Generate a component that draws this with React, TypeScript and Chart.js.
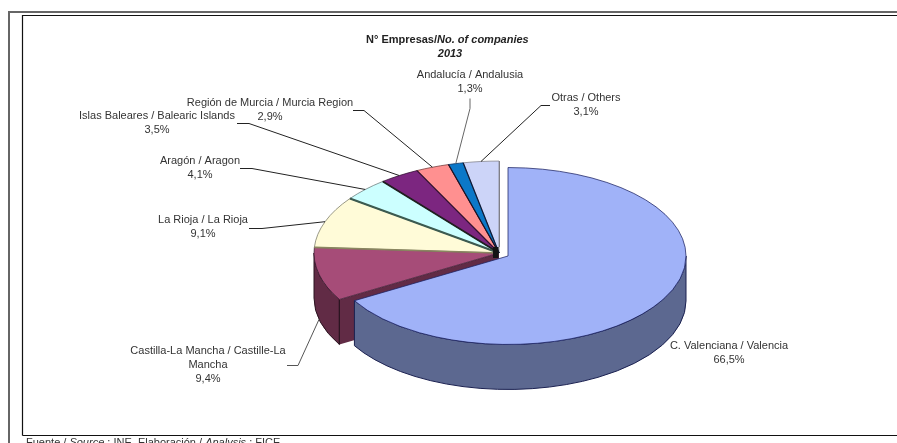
import { useEffect, useRef } from "react";
import { Chart, registerables } from "chart.js";

Chart.register(...registerables);

const regions = [
  ["C. Valenciana / Valencia"],
  ["Castilla-La Mancha / Castille-La", "Mancha"],
  ["La Rioja / La Rioja"],
  ["Aragón / Aragon"],
  ["Islas Baleares / Balearic Islands"],
  ["Región de Murcia / Murcia Region"],
  ["Andalucía / Andalusia"],
  ["Otras / Others"],
];
const shares = [66.5, 9.4, 9.1, 4.1, 3.5, 2.9, 1.3, 3.1];
const topColors = ["#A0B2F8", "#A64C78", "#FFFBD8", "#CCFFFF", "#7C2680", "#FF9090", "#0B78C8", "#CCD4F8"];
const edgeColors = ["#1A2060", "#3A1A30", "#777766", "#667777", "#301030", "#703838", "#083060", "#808088"];

// Shaded faces of the extruded pie.
const VALENCIA_SIDE = "#5C6890";
const CASTILLA_SIDE = "#612B45";

// Pie projection.
const CENTER_X = 499;
const CENTER_Y = 253;
const RADIUS = 185;
const SQUASH = 0.497;
const DEPTH = 45;
const EXPLODED_RADIUS = 178;
const EXPLODE_X = 9;
const EXPLODE_Y = 3;

// Where each label sits: text centre, first line centre, and the leader's elbow.
type LabelSpot = { cx: number; y: number; elbow?: [number, number][]; onSide?: boolean; stroke?: string };
const labelSpots: LabelSpot[] = [
  { cx: 729, y: 346 },
  { cx: 208, y: 351, elbow: [[287, 365], [298, 365]], onSide: true, stroke: "#555" },
  { cx: 203, y: 220, elbow: [[249, 228], [262, 228]] },
  { cx: 200, y: 161, elbow: [[240, 168], [252, 168]] },
  { cx: 157, y: 116, elbow: [[237, 123], [249, 123]] },
  { cx: 270, y: 103, elbow: [[353, 110], [364, 110]] },
  { cx: 470, y: 75, elbow: [[470, 98], [470, 108]], stroke: "#666" },
  { cx: 586, y: 98, elbow: [[550, 105], [541, 105]] },
];
const LINE_HEIGHT = 14;

// Dark seams between neighbouring slices, following each slice's end edge.
const seams = [
  { index: 1, color: "#8A8660", width: 1.6 },
  { index: 2, color: "#3C5A50", width: 2 },
  { index: 3, color: "#202020", width: 1.8 },
  { index: 4, color: "#301030", width: 1.2 },
  { index: 5, color: "#201020", width: 1.2 },
  { index: 6, color: "#081838", width: 1.2 },
];

const FONT = '"Liberation Sans", Arial, sans-serif';
const TEXT_COLOR = "#333333";

const rimPath = (ctx: CanvasRenderingContext2D, x: number, y: number, r: number, from: number, to: number) => {
  // Draws inside the squashed space, so the drop is scaled back up.
  const drop = DEPTH / SQUASH;
  ctx.beginPath();
  ctx.arc(x, y, r, from, to);
  ctx.arc(x, y + drop, r, to, from, true);
  ctx.closePath();
};

const squash = (ctx: CanvasRenderingContext2D) => {
  ctx.translate(0, CENTER_Y);
  ctx.scale(1, SQUASH);
  ctx.translate(0, -CENTER_Y);
};

// Strokes the current path with an undistorted pen.
const strokeFlat = (ctx: CanvasRenderingContext2D, color: string) => {
  ctx.save();
  ctx.setTransform(1, 0, 0, 1, 0, 0);
  ctx.strokeStyle = color;
  ctx.lineWidth = 1;
  ctx.stroke();
  ctx.restore();
};

const pie3d = {
  id: "pie3d",
  afterDatasetsUpdate(chart: any) {
    const first = chart.getDatasetMeta(0).data[0];
    first.x += EXPLODE_X;
    first.y += EXPLODE_Y / SQUASH;
    first.outerRadius = EXPLODED_RADIUS;
  },
  beforeDatasetsDraw(chart: any) {
    const { ctx } = chart;
    const arcs = chart.getDatasetMeta(0).data;
    const [valencia, castilla] = arcs;
    const drop = DEPTH / SQUASH;
    ctx.save();
    squash(ctx);

    // Castilla-La Mancha: cut face towards the detached slice, then its rim.
    const endX = castilla.x + Math.cos(castilla.startAngle) * castilla.outerRadius;
    const endY = castilla.y + Math.sin(castilla.startAngle) * castilla.outerRadius;
    ctx.beginPath();
    ctx.moveTo(castilla.x, castilla.y);
    ctx.lineTo(endX, endY);
    ctx.lineTo(endX, endY + drop);
    ctx.lineTo(castilla.x, castilla.y + drop);
    ctx.closePath();
    ctx.fillStyle = CASTILLA_SIDE;
    ctx.fill();
    rimPath(ctx, castilla.x, castilla.y, castilla.outerRadius, castilla.startAngle, Math.PI);
    ctx.fill();
    strokeFlat(ctx, "#2A1420");
    ctx.beginPath();
    ctx.moveTo(endX, endY);
    ctx.lineTo(endX, endY + drop);
    strokeFlat(ctx, "#2A1420");

    // Rim of the detached Comunidad Valenciana slice.
    rimPath(ctx, valencia.x, valencia.y, valencia.outerRadius, 0, valencia.endAngle);
    ctx.fillStyle = VALENCIA_SIDE;
    ctx.fill();
    strokeFlat(ctx, "#1A2050");

    // Every arc the library draws next lands in the squashed space; restored afterwards.
  },
  afterDatasetsDraw(chart: any) {
    const { ctx } = chart;
    const arcs = chart.getDatasetMeta(0).data;
    ctx.restore();

    const toScreen = (x: number, y: number): [number, number] => [x, CENTER_Y + (y - CENTER_Y) * SQUASH];

    // Seams between slices.
    ctx.save();
    ctx.lineCap = "butt";
    seams.forEach(({ index, color, width }) => {
      const el = arcs[index];
      const [x0, y0] = toScreen(el.x, el.y);
      const [x1, y1] = toScreen(
        el.x + Math.cos(el.endAngle) * el.outerRadius,
        el.y + Math.sin(el.endAngle) * el.outerRadius,
      );
      ctx.strokeStyle = color;
      ctx.lineWidth = width;
      ctx.beginPath();
      ctx.moveTo(x0, y0);
      ctx.lineTo(x1, y1);
      ctx.stroke();
    });

    // Where the cut faces meet at the hub.
    ctx.fillStyle = "#141414";
    ctx.fillRect(CENTER_X - 6, CENTER_Y - 6, 5.5, 11);

    // Otras keeps a light grey outline on its right edge.
    const others = arcs[arcs.length - 1];
    const [ox, oy] = toScreen(others.x, others.y);
    const [tx, ty] = toScreen(others.x, others.y - others.outerRadius);
    ctx.strokeStyle = "#808088";
    ctx.lineWidth = 1;
    ctx.beginPath();
    ctx.moveTo(ox + 0.5, oy - 6);
    ctx.lineTo(tx + 0.5, ty);
    ctx.stroke();
    ctx.restore();

    // Leaders and labels.
    ctx.save();
    labelSpots.forEach((spot, i) => {
      const el = arcs[i];
      if (spot.elbow) {
        const mid = (el.startAngle + el.endAngle) / 2;
        const [rx, ry] = toScreen(el.x + Math.cos(mid) * el.outerRadius, el.y + Math.sin(mid) * el.outerRadius);
        ctx.strokeStyle = spot.stroke ?? "#222";
        ctx.lineWidth = 1;
        ctx.beginPath();
        spot.elbow.forEach(([x, y], n) => (n ? ctx.lineTo(x, y + 0.5) : ctx.moveTo(x, y + 0.5)));
        ctx.lineTo(rx, spot.onSide ? ry + DEPTH : ry);
        ctx.stroke();
      }
      ctx.fillStyle = TEXT_COLOR;
      ctx.font = `11px ${FONT}`;
      ctx.textAlign = "center";
      ctx.textBaseline = "middle";
      const lines = [...regions[i], `${shares[i].toFixed(1).replace(".", ",")}%`];
      lines.forEach((line, n) => ctx.fillText(line, spot.cx, spot.y + n * LINE_HEIGHT));
    });

    // Heading: Spanish in bold, English in bold italic.
    ctx.fillStyle = "#222222";
    ctx.textAlign = "left";
    ctx.textBaseline = "middle";
    ctx.font = `bold 11px ${FONT}`;
    const head = "N° Empresas/";
    ctx.fillText(head, 366, 40);
    const headWidth = ctx.measureText(head).width;
    ctx.font = `italic bold 11px ${FONT}`;
    ctx.fillText("No. of companies", 366 + headWidth, 40);
    ctx.textAlign = "center";
    ctx.fillText("2013", 450, 54);

    // Frames.
    ctx.strokeStyle = "#666";
    ctx.lineWidth = 2;
    ctx.beginPath();
    ctx.moveTo(9, 443);
    ctx.lineTo(9, 12);
    ctx.lineTo(897, 12);
    ctx.stroke();
    ctx.strokeStyle = "#111";
    ctx.lineWidth = 1.2;
    ctx.beginPath();
    ctx.moveTo(22.5, 435.5);
    ctx.lineTo(22.5, 15.5);
    ctx.lineTo(897, 15.5);
    ctx.moveTo(22.5, 435.5);
    ctx.lineTo(897, 435.5);
    ctx.stroke();

    // Source note, running off the bottom of the canvas.
    ctx.textAlign = "left";
    ctx.fillStyle = TEXT_COLOR;
    const source: [string, boolean][] = [
      ["Fuente / ", false],
      ["Source", true],
      [" : INE. Elaboración / ", false],
      ["Analysis", true],
      [" : FICE", false],
    ];
    let x = 26;
    source.forEach(([part, italic]) => {
      ctx.font = `${italic ? "italic " : ""}11px ${FONT}`;
      ctx.fillText(part, x, 443);
      x += ctx.measureText(part).width;
    });
    ctx.restore();
  },
};

export default function App() {
  const canvasRef = useRef<HTMLCanvasElement>(null);

  useEffect(() => {
    const chart = new Chart(canvasRef.current!, {
      type: "pie",
      data: {
        labels: regions.map((r) => r.join(" ")),
        datasets: [
          {
            data: shares,
            backgroundColor: topColors,
            borderColor: edgeColors,
            borderWidth: 1,
            radius: RADIUS,
            clip: false,
          } as any,
        ],
      },
      options: {
        animation: false,
        responsive: false,
        layout: {
          padding: { left: CENTER_X * 2 - 897, top: CENTER_Y * 2 - 443, right: 0, bottom: 0 },
        },
        plugins: { legend: { display: false }, tooltip: { enabled: false }, title: { display: false } },
      },
      plugins: [pie3d],
    });
    return () => chart.destroy();
  }, []);

  return (
    <div style={{ position: "fixed", left: 0, top: 0, width: 897, height: 443, background: "#fff", overflow: "hidden" }}>
      <canvas ref={canvasRef} width={897} height={443} style={{ display: "block" }} />
    </div>
  );
}
